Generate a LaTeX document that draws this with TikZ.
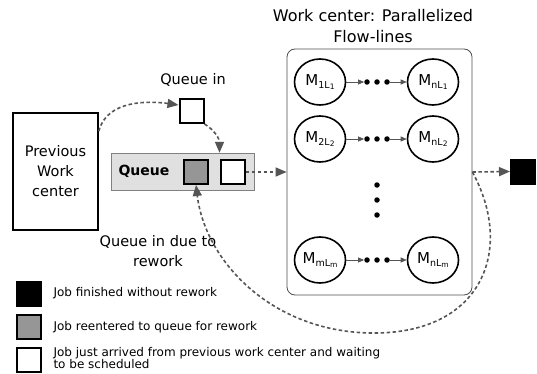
\documentclass[tikz,border=0pt]{standalone}
\usepackage{fontspec}
\setmainfont{DejaVu Sans}
\usetikzlibrary{positioning,arrows.meta,shapes.geometric}
\definecolor{flowgray}{RGB}{85,85,85}
\definecolor{queuegray}{RGB}{224,224,224}
\definecolor{jobgray}{RGB}{150,150,150}
\newcommand{\mlab}[2]{M\raisebox{-0.35ex}{\fontsize{9.5}{9.5}\selectfont #1L\raisebox{-0.15ex}{\fontsize{7.5}{7.5}\selectfont #2}}}
\tikzset{
  jobw/.style={rectangle, draw=black, line width=2pt, fill=white, minimum size=24pt, inner sep=0pt},
  jobg/.style={jobw, fill=jobgray},
  jobb/.style={jobw, fill=black},
  mach/.style={ellipse, draw=black, line width=1.6pt, minimum width=51pt, minimum height=46pt, inner sep=0pt, font=\fontsize{15}{15}\selectfont},
  bead/.style={circle, fill=black, inner sep=0pt, minimum size=5.5pt},
  flow/.style={draw=flowgray, line width=1.6pt, dash pattern=on 3.5pt off 2.5pt, -{Triangle[length=11pt,width=9pt]}},
  link/.style={draw=flowgray, line width=0.7pt, -{Triangle[length=6pt,width=5pt]}},
  lbl/.style={align=center, font=\fontsize{14.5}{20}\selectfont},
  leg/.style={anchor=west, align=left, font=\fontsize{12}{12.5}\selectfont}
}

\begin{document}
\begin{tikzpicture}[x=1pt, y=-1pt]
  \useasboundingbox (0,0) rectangle (537,374);

  % previous station and queue
  \node[draw=black, line width=1.6pt, minimum width=85pt, minimum height=117pt, lbl] (prev) at (55.5,171.5) {Previous\\Work\\center};
  \node[jobw] (qin) at (191.5,111) {};
  \node[lbl] (qinlbl) at (193,80) {Queue in};
  \node[draw=gray, fill=queuegray, minimum width=143pt, minimum height=37pt] (qbar) at (182.5,171.5) {};
  \node[font=\fontsize{14}{14}\selectfont\bfseries] (qtxt) at (144,171.5) {Queue};
  \node[jobg] (rework) at (196,172) {};
  \node[jobw] (newjob) at (232.5,172) {};
  \node[lbl] (relbl) at (158,251) {Queue in due to\\rework};

  % work center with the flow lines
  \node[draw=black!70, line width=0.8pt, rounded corners=8pt, minimum width=185pt, minimum height=246pt] (wc) at (379.5,172) {};
  \node[lbl, font=\fontsize{16}{21}\selectfont] (wctitle) at (373,26) {Work center: Parallelized\\Flow-lines};
  \foreach \r/\y/\a in {1/82/1, 2/139/2, m/260/m}{
    \node[mach] (m\r1) at (320,\y) {\mlab{\a}{\a}};
    \node[mach] (m\r n) at (433,\y) {\mlab{n}{\a}};
    \node[bead] (d\r1) at (367,\y) {};
    \node[bead] (d\r2) at (377,\y) {};
    \node[bead] (d\r3) at (387,\y) {};
    \draw[link] (m\r1) -- (d\r1);
    \draw[link] (d\r3) -- (m\r n);
  }
  \node[bead] (v1) at (377,185) {};
  \node[bead] (v2) at (377,200) {};
  \node[bead] (v3) at (377,215) {};

  \node[jobb] (done) at (523,171.5) {};

  % job flow
  \draw[flow] ([yshift=-19pt]prev.north east) .. controls +(8,-32) and +(-28,-4) .. ([yshift=6pt]qin.west);
  \draw[flow] (qin.south east) .. controls +(10,6) and +(0,-14) .. (qbar.north -| newjob.west);
  \draw[flow] (newjob.east) -- (wc.west);
  \draw[flow] (wc.east) -- (done.west);
  \draw[flow] (wc.east) .. controls (515,250) and (482,335) .. (370,333)
    .. controls (270,331) and (205,260) .. (rework.south);

  % legend
  \node[jobb] (lg1) at (29,293.5) {};
  \node[jobg] (lg2) at (29,327) {};
  \node[jobw] (lg3) at (29,359.5) {};
  \node[leg] (lt1) at (50,293.5) {Job finished without rework};
  \node[leg] (lt2) at (50,327) {Job reentered to queue for rework};
  \node[leg] (lt3) at (50,358) {Job just arrived from previous work center and waiting\\to be scheduled};
\end{tikzpicture}
\end{document}
